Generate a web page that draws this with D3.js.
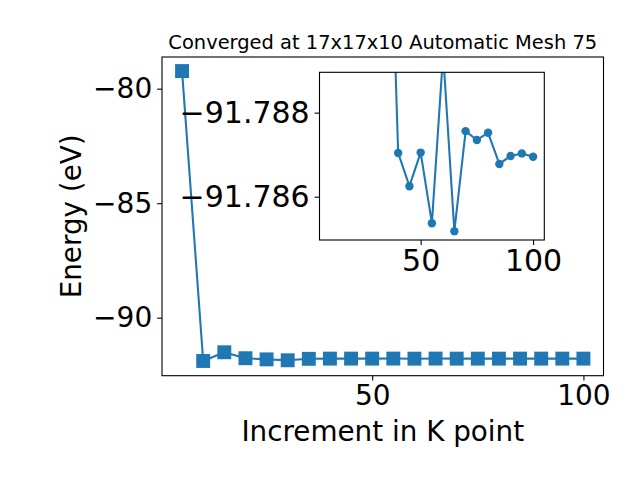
<!DOCTYPE html>
<html>
<head>
<meta charset="utf-8">
<script src="https://cdn.jsdelivr.net/npm/d3@7"></script>
<style>
  html, body { margin: 0; padding: 0; background: #fff; }
  svg { display: block; }
  text { font-family: "DejaVu Sans", sans-serif; fill: #000; }
</style>
</head>
<body>
<script>
// ---- data ----
const kPoints = [5, 10, 15, 20, 25, 30, 35, 40, 45, 50, 55, 60, 65, 70, 75, 80, 85, 90, 95, 100];
const energies = [-79.23, -91.89, -91.51, -91.77, -91.82, -91.86, -91.7954, -91.78704, -91.78625, -91.78705,
                  -91.78537, -91.7894, -91.78518, -91.78756, -91.78735, -91.78752, -91.78678, -91.78697,
                  -91.78703, -91.78695];
const insetStart = 6; // inset shows points from k = 35 onward
const mainXTicks = [50, 100];
const mainYTicks = [-80, -85, -90];
const insetXTicks = [50, 100];
const insetYTicks = [-91.788, -91.786];
const titleText = "Converged at 17x17x10 Automatic Mesh 75";
const xLabelText = "Increment in K point";
const yLabelText = "Energy (eV)";

const color = "#1f77b4";
const W = 640, H = 480;
const tickFont = 28, insetTickFont = 30, labelFont = 27.8, titleFont = 19.44;
const tickLen = 4.9, tickPad = 4.9;

const svg = d3.select("body").append("svg").attr("width", W).attr("height", H);
svg.append("rect").attr("width", W).attr("height", H).attr("fill", "#fff");

const fmt = v => String(v).replace("-", "\u2212");

function styleAxis(g, size) {
  g.select(".domain").remove();
  g.selectAll(".tick line").attr("stroke", "#000").attr("stroke-width", 1.1);
  g.selectAll(".tick text").attr("font-family", "DejaVu Sans")
    .attr("font-size", size).attr("fill", "#000");
}

// ---- main axes ----
const M = { left: 162, right: 603.5, top: 57, bottom: 375.7 };
const x = d3.scaleLinear().domain([0.25, 104.75]).range([M.left, M.right]);
const y = d3.scaleLinear().domain([-92.533, -78.616]).range([M.bottom, M.top]);

const main = svg.append("g");
const line = d3.line().x((d, i) => x(kPoints[i])).y(d => y(d));
main.append("path").datum(energies).attr("d", line)
  .attr("fill", "none").attr("stroke", color).attr("stroke-width", 2.08).attr("stroke-linejoin", "round");
const sq = 13.9;
main.selectAll("rect.m").data(energies).join("rect").attr("class", "m")
  .attr("x", (d, i) => x(kPoints[i]) - sq / 2).attr("y", d => y(d) - sq / 2)
  .attr("width", sq).attr("height", sq).attr("fill", color);

const xAxisG = svg.append("g").attr("transform", `translate(0,${M.bottom})`)
  .call(d3.axisBottom(x).tickValues(mainXTicks).tickSize(tickLen).tickPadding(tickPad).tickFormat(fmt));
const yAxisG = svg.append("g").attr("transform", `translate(${M.left},0)`)
  .call(d3.axisLeft(y).tickValues(mainYTicks).tickSize(tickLen).tickPadding(tickPad).tickFormat(fmt));
styleAxis(xAxisG, tickFont);
styleAxis(yAxisG, tickFont);
svg.append("rect").attr("x", M.left).attr("y", M.top)
  .attr("width", M.right - M.left).attr("height", M.bottom - M.top)
  .attr("fill", "none").attr("stroke", "#000").attr("stroke-width", 1.1);

// labels
const cx = (M.left + M.right) / 2;
svg.append("text").attr("x", cx).attr("y", 49)
  .attr("text-anchor", "middle").attr("font-size", titleFont).text(titleText);
svg.append("text").attr("x", cx).attr("y", 441)
  .attr("text-anchor", "middle").attr("font-size", labelFont).text(xLabelText);
svg.append("text").attr("transform", `translate(81,${(M.top + M.bottom) / 2}) rotate(-90)`)
  .attr("text-anchor", "middle").attr("font-size", labelFont).text(yLabelText);

// ---- inset ----
const I = { left: 319.5, right: 544.3, top: 72.3, bottom: 240 };
const xi = d3.scaleLinear().domain([5, 105]).range([I.left, I.right]);
const yi = d3.scaleLinear().domain([-91.78896, -91.78497]).range([I.top, I.bottom]);
const insetData = energies.slice(insetStart).map((e, i) => ({ k: kPoints[i + insetStart], e }));

svg.append("defs").append("clipPath").attr("id", "clipInset")
  .append("rect").attr("x", I.left).attr("y", I.top)
  .attr("width", I.right - I.left).attr("height", I.bottom - I.top);

svg.append("rect").attr("x", I.left).attr("y", I.top)
  .attr("width", I.right - I.left).attr("height", I.bottom - I.top).attr("fill", "#fff");
const ig = svg.append("g").attr("clip-path", "url(#clipInset)");
ig.append("path").datum(insetData)
  .attr("d", d3.line().x(d => xi(d.k)).y(d => yi(d.e)))
  .attr("fill", "none").attr("stroke", color).attr("stroke-width", 2.08).attr("stroke-linejoin", "round");
ig.selectAll("circle").data(insetData).join("circle")
  .attr("cx", d => xi(d.k)).attr("cy", d => yi(d.e)).attr("r", 4.2).attr("fill", color);

const xiAxisG = svg.append("g").attr("transform", `translate(0,${I.bottom})`)
  .call(d3.axisBottom(xi).tickValues(insetXTicks).tickSize(tickLen).tickPadding(tickPad).tickFormat(fmt));
const yiAxisG = svg.append("g").attr("transform", `translate(${I.left},0)`)
  .call(d3.axisLeft(yi).tickValues(insetYTicks).tickSize(tickLen).tickPadding(tickPad)
    .tickFormat(d => fmt(d3.format(".3f")(d))));
styleAxis(xiAxisG, insetTickFont);
styleAxis(yiAxisG, insetTickFont);
svg.append("rect").attr("x", I.left).attr("y", I.top)
  .attr("width", I.right - I.left).attr("height", I.bottom - I.top)
  .attr("fill", "none").attr("stroke", "#000").attr("stroke-width", 1.1);
</script>
</body>
</html>
